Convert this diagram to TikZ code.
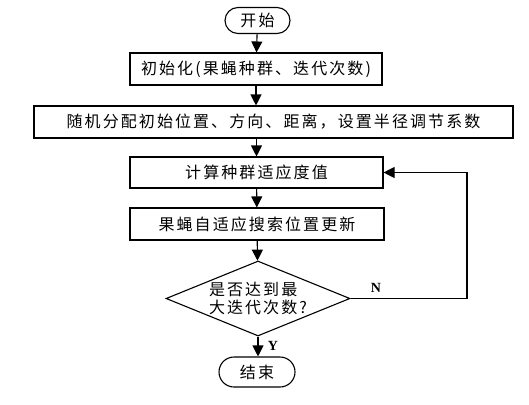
\documentclass[tikz,border=0pt]{standalone}
\usepackage{fontspec}
\setmainfont{Liberation Serif}
\newfontfamily\cjk[LetterSpace=13]{Noto Sans CJK SC}
\usepackage{tikz}
\usetikzlibrary{arrows.meta,shapes.geometric,shapes.misc,calc}
\tikzset{
  every node/.style={font=\cjk\fontsize{16}{18.5}\selectfont},
  procbox/.style={draw=black,line width=1.1pt,rectangle,minimum height=32pt,inner sep=0pt},
  termbox/.style={draw=black,line width=1.1pt,rounded rectangle,minimum height=26pt,inner sep=0pt},
  decbox/.style={draw=black,line width=1.1pt,diamond,aspect=2.45,inner sep=0pt,
    minimum width=184pt,minimum height=75pt,align=left},
  flow/.style={draw=black,line width=1.1pt,-{Triangle[width=11pt,length=11pt]}},
  yn/.style={font=\bfseries\fontsize{14}{14}\selectfont,inner sep=0pt},
}

\begin{document}
\begin{tikzpicture}[x=1pt,y=-1pt]
        \useasboundingbox (0,0) rectangle (529,404);
        % blocks
        \node[termbox, minimum width=65pt] (start) at (257.5,20.5) {开始};
        \node[procbox, minimum width=252pt] (init) at (256,69) {初始化(果蝇种群、迭代次数)};
        \node[procbox, minimum width=479pt] (rand) at (273.5,122) {随机分配初始位置、方向、距离，设置半径调节系数};
        \node[procbox, minimum width=253pt, minimum height=31pt] (fit) at (256.5,172.5) {计算种群适应度值};
        \node[procbox, minimum width=254pt] (upd) at (257,224) {果蝇自适应搜索位置更新};
        \node[decbox] (judge) at (258,298.5) {是否达到最\\大迭代次数?};
        \node[termbox, minimum width=76pt, minimum height=30pt] (stop) at (257,372) {结束};
        % corner of the loop
        \coordinate (back) at (467,172.5);
        % arrows
        \draw[flow] (start) -- (init);
        \draw[flow] (init) -- (init.south |- rand.north);
        \draw[flow] (rand.south -| fit.north) -- (fit);
        \draw[flow] (fit) -- (upd);
        \draw[flow] (upd) -- (judge);
        \draw[flow] (judge.south) -- (stop.north -| judge.south);
        \draw[flow] (judge.east) -| (back) -- (fit.east);
        % labels
        \node[yn] (lblN) at (376,288) {N};
        \node[yn] (lblY) at (273,346) {Y};
    \end{tikzpicture}
\end{document}
